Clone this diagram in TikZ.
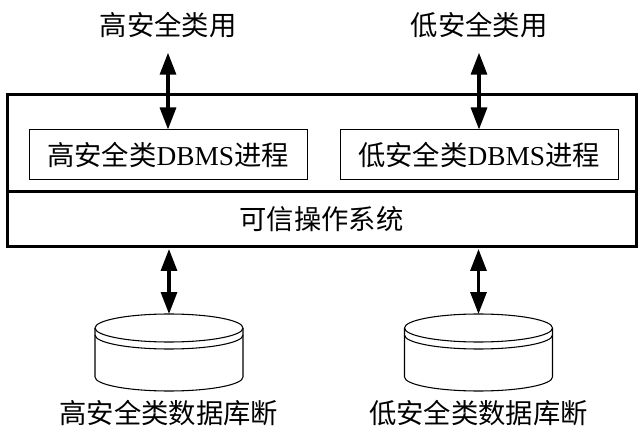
\documentclass[tikz,border=0pt]{standalone}
\usepackage{fontspec}
\setmainfont{Liberation Serif}
\newfontfamily\cjk{Noto Sans CJK SC}
\usepackage{tikz}
\usetikzlibrary{arrows.meta,positioning,calc}

\begin{document}
\begin{tikzpicture}[x=0.75pt,y=-0.75pt,
   txt/.style={font=\cjk\fontsize{20.5}{24}\selectfont,inner sep=0pt},
   layer/.style={draw,line width=2.25pt,minimum width=471.75pt,inner sep=0pt,outer sep=0pt},
   proc/.style={txt,draw,line width=0.75pt,minimum width=208.5pt,minimum height=37.5pt},
   dbslot/.style={minimum width=111pt,minimum height=57.75pt,inner sep=0pt,outer sep=0pt},
   a/.style={{Triangle[length=16.5pt,width=12pt]}-{Triangle[length=16.5pt,width=12pt]},line width=2.4pt}]
  \useasboundingbox (0,0) rectangle (643,442);
  % system box: process layer over the OS layer
  \node[layer,minimum height=72.75pt] (procLayer) at (321.5,143.5) {};
  \node[layer,txt,minimum height=41.25pt,below=0pt of procLayer] (osLayer) {可信操作系统};
  \node[proc] (hiProc) at (168,155) {高安全类{\rmfamily DBMS}进程};
  \node[proc] (loProc) at (479,155) {低安全类{\rmfamily DBMS}进程};
  \node[txt] (hiUser) at (168,25) {高安全类用};
  \node[txt] (loUser) at (479,25) {低安全类用};
  \node[dbslot] (hiDb) at (169,352.5) {};
  \node[dbslot] (loDb) at (478.5,352.5) {};
  \node[txt] (hiDbName) at (169,413) {高安全类数据库断};
  \node[txt] (loDbName) at (478.5,413) {低安全类数据库断};
  % cylinders
  \foreach \db in {hiDb,loDb}{
    \draw[line width=0.8pt] ($(\db.north)+(0,14)$) ellipse[x radius=55.5pt,y radius=10.5pt];
    \draw[line width=0.8pt] ($(\db.north west)+(0,14)$) -- ($(\db.south west)+(0,-14)$)
      arc[start angle=180,end angle=360,x radius=55.5pt,y radius=10.5pt] -- ($(\db.north east)+(0,14)$);
    \draw[line width=0.8pt] ($(\db.north west)+(0,21)$)
      arc[start angle=180,end angle=360,x radius=55.5pt,y radius=10.5pt];
  }
  \draw[a,shorten <=11pt] (hiUser.south) -- (hiProc.north);
  \draw[a,shorten <=11pt] (loUser.south) -- (loProc.north);
  \draw[a,shorten <=1.5pt] (hiDb.north |- osLayer.south) -- (hiDb.north);
  \draw[a,shorten <=1.5pt] (loDb.north |- osLayer.south) -- (loDb.north);
\end{tikzpicture}
\end{document}
